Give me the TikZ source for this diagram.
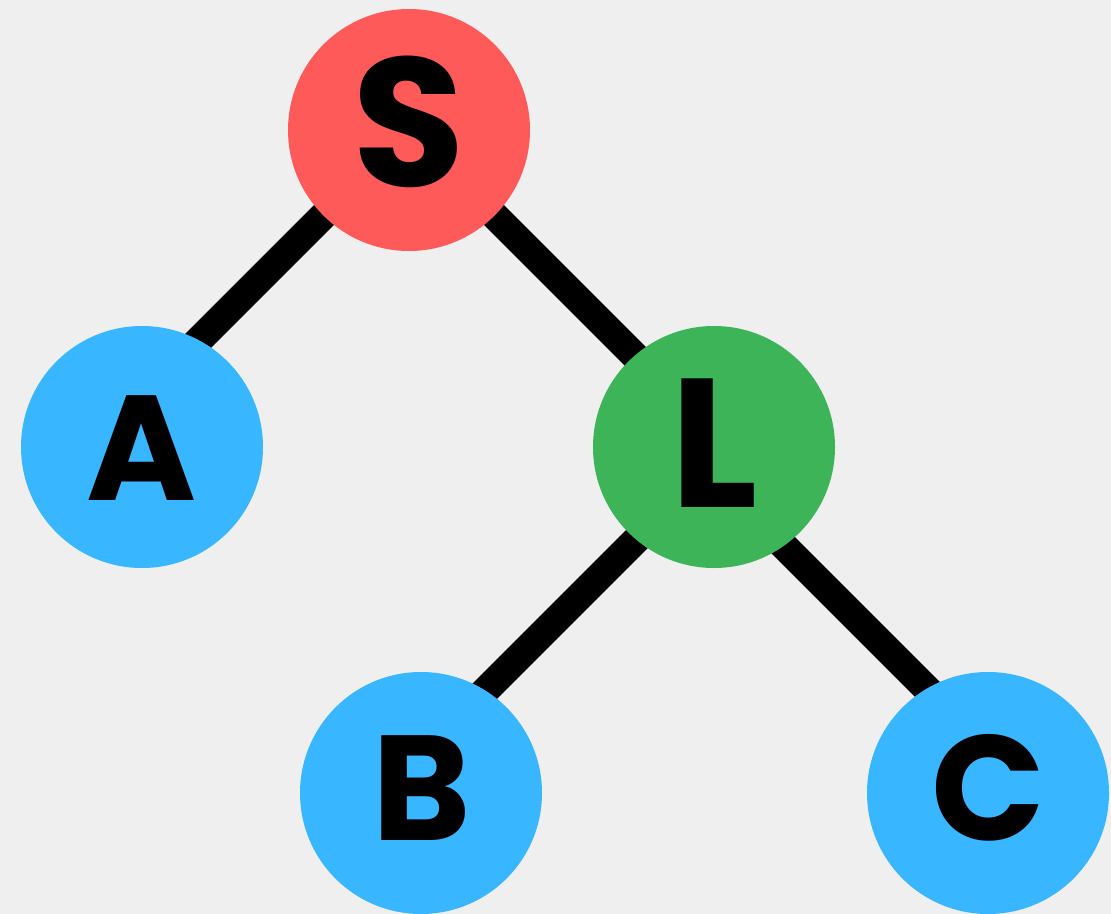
\documentclass[tikz,border=0pt]{standalone}
\usepackage{fontspec}
\setmainfont{Poppins}
\definecolor{bg}{HTML}{EFEFEF}
\definecolor{nred}{HTML}{FF5A5A}
\definecolor{nblue}{HTML}{38B6FF}
\definecolor{ngreen}{HTML}{3DB457}
\begin{document}
\begin{tikzpicture}[x=1bp,y=-1bp,
  ball/.style={circle,minimum size=242bp,inner sep=0pt,draw=none},
  edge/.style={line width=28bp,black},
  big/.style={anchor=base,inner sep=0pt,font=\fontsize{184}{184}\selectfont\bfseries},
  small/.style={anchor=base,inner sep=0pt,font=\fontsize{150}{150}\selectfont\bfseries}]
\fill[bg] (0,0) rectangle (1111,914);
\useasboundingbox (0,0) rectangle (1111,914);
% connector end points (inside the circles)
\coordinate (SAend) at (117,422);
\coordinate (SLend) at (720,441);
\coordinate (LBstart) at (721.5,454.5);
\coordinate (LBend) at (402,774);
\coordinate (LCstart) at (699.5,461.5);
\coordinate (LCend) at (1009.5,771.5);
\coordinate (Sc) at (409,130);
\draw[edge] (Sc) -- (SAend);
\draw[edge] (Sc) -- (SLend);
\draw[edge] (LBstart) -- (LBend);
\draw[edge] (LCstart) -- (LCend);
\node[ball,fill=nred] (S) at (409,130) {};
\node[ball,fill=nblue] (A) at (142,447) {};
\node[ball,fill=ngreen] (L) at (714,447) {};
\node[ball,fill=nblue] (B) at (421,793) {};
\node[ball,fill=nblue] (C) at (988,793) {};
\node[big] (tS) at (409,186) {S};
\node[small] (tA) at (142,500) {A};
\node[big] (tL) at (714,507) {L};
\node[small] (tB) at (422,840) {B};
\node[small] (tC) at (988,840) {C};
\end{tikzpicture}
\end{document}
